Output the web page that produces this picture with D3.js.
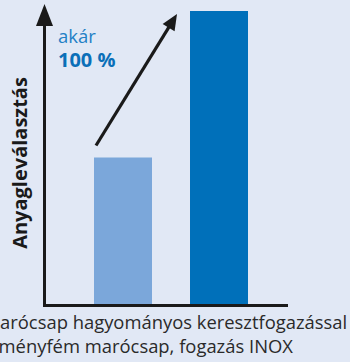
<!DOCTYPE html>
<html>
<head>
<meta charset="utf-8">
<script src="https://cdn.jsdelivr.net/npm/d3@7"></script>
<style>
  html, body { margin: 0; padding: 0; background: #e1e8f5; }
  svg { display: block; }
</style>
</head>
<body>
<script>
// Material removal rate: conventional vs. carbide end mill
const categories = ["Marócsap hagyományos keresztfogazással", "Keményfém marócsap, fogazás INOX"];
const values = [100, 200];
const barColors = ["#7ba7da", "#0070ba"];
const yLabel = "Anyagleválasztás";
const gainLines = ["akár", "100 %"];

const W = 350, H = 362;
const svg = d3.select("body").append("svg").attr("width", W).attr("height", H);
svg.append("rect").attr("width", W).attr("height", H).attr("fill", "#e1e8f5");

const x = d3.scaleBand().domain(categories).range([46, 296]).paddingInner(0.396).paddingOuter(0.5);
const y = d3.scaleLinear().domain([0, 200]).range([304, 11]);

// bars
svg.selectAll("rect.bar").data(categories).join("rect")
  .attr("class", "bar")
  .attr("x", d => x(d))
  .attr("width", x.bandwidth())
  .attr("y", (d, i) => y(values[i]))
  .attr("height", (d, i) => y(0) - y(values[i]))
  .attr("fill", (d, i) => barColors[i]);

const ink = "#1a1a1a";
// y axis with arrowhead
const axX = 44.5;
svg.append("line").attr("x1", axX).attr("x2", axX).attr("y1", 20).attr("y2", y(0) + 2.5)
  .attr("stroke", ink).attr("stroke-width", 3);
svg.append("path").attr("d", `M${axX},4 L${axX - 8.5},26 L${axX + 8.5},26 Z`).attr("fill", ink);
// x axis
svg.append("line").attr("x1", 43).attr("x2", 288).attr("y1", y(0) + 1.5).attr("y2", y(0) + 1.5)
  .attr("stroke", ink).attr("stroke-width", 3);

// growth arrow from the first bar toward the second
const x0 = x(categories[0]) + 2, y0 = y(values[0]) - 12;
const x1 = x(categories[1]) - 13, y1 = y(values[1]) + 3;
const dx = x1 - x0, dy = y1 - y0, len = Math.hypot(dx, dy);
const ux = dx / len, uy = dy / len, head = 16, half = 7;
svg.append("line").attr("x1", x0).attr("y1", y0)
  .attr("x2", x1 - ux * head * 0.8).attr("y2", y1 - uy * head * 0.8)
  .attr("stroke", ink).attr("stroke-width", 3.2);
svg.append("path").attr("d",
  `M${x1},${y1} L${x1 - ux * head - uy * half},${y1 - uy * head + ux * half} L${x1 - ux * head + uy * half},${y1 - uy * head - ux * half} Z`)
  .attr("fill", ink);

// gain annotation
svg.append("text").attr("x", 58).attr("y", 43).text(gainLines[0])
  .attr("font-family", "Open Sans").attr("font-size", 18.5).attr("fill", "#1f80c6");
svg.append("text").attr("x", 58).attr("y", 67).text(gainLines[1])
  .attr("font-family", "Open Sans").attr("font-weight", "bold").attr("font-size", 20).attr("fill", "#0a6fb8");

// y axis title
svg.append("text").attr("transform", "translate(27,163) rotate(-90)")
  .attr("text-anchor", "middle").text(yLabel)
  .attr("font-family", "Open Sans").attr("font-weight", "bold").attr("font-size", 20).attr("fill", ink);

// category captions (they run past the left edge of the panel)
const captionX = [-16.5, -23];
svg.selectAll("text.cap").data(categories).join("text")
  .attr("class", "cap")
  .attr("x", (d, i) => captionX[i])
  .attr("y", (d, i) => 329 + i * 24)
  .text(d => d)
  .attr("font-family", "Open Sans").attr("font-size", 18.4).attr("fill", "#2a2a2a");
</script>
</body>
</html>
